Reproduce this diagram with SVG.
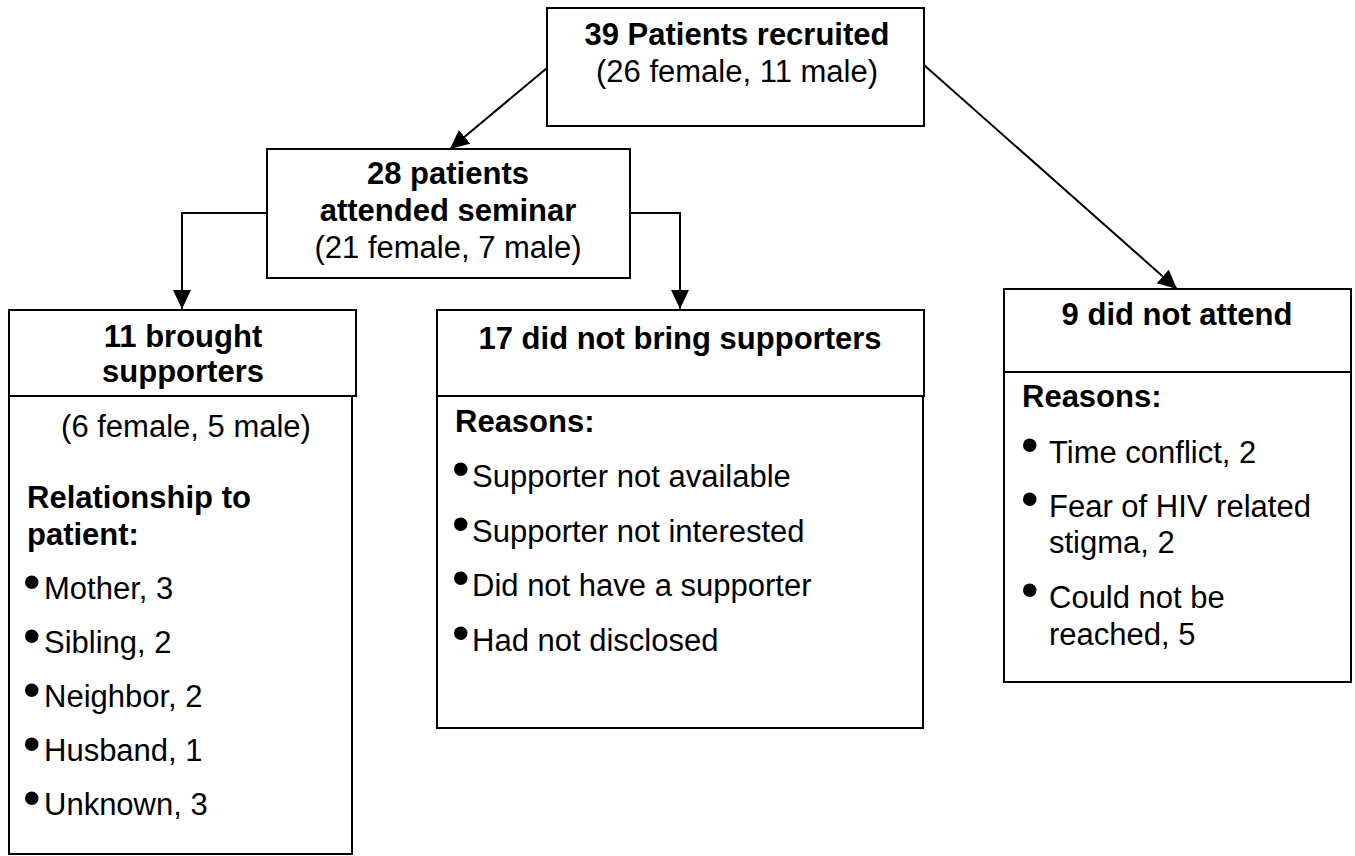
<svg xmlns="http://www.w3.org/2000/svg" width="1355" height="856" viewBox="0 0 1355 856">
<defs>
<marker id="arr" markerUnits="userSpaceOnUse" markerWidth="20" markerHeight="20" refX="19" refY="9" orient="auto">
<path d="M0,0 L19,9 L0,18 Z" fill="#000"/>
</marker>
<style>
.box{fill:#fff;stroke:#000;stroke-width:2}
.t{font-family:"Liberation Sans",Arial,sans-serif;font-size:31px;fill:#000}
.b{font-weight:bold}
.m{text-anchor:middle}
.bl{font-size:50px}
.c{fill:none;stroke:#000;stroke-width:2}
</style>
</defs>
<rect width="1355" height="856" fill="#fff"/>
<g id="connectors">
<path class="c" d="M547,68 L450,149" marker-end="url(#arr)"/>
<path class="c" d="M924,65 L1177,289" marker-end="url(#arr)"/>
<path class="c" d="M267,213 L182,213 L182,309" marker-end="url(#arr)"/>
<path class="c" d="M630,213 L680,213 L680,309" marker-end="url(#arr)"/>
</g>
<g id="recruited">
<rect class="box" x="547" y="8" width="377" height="118"/>
<text class="t b m" x="737" y="45">39 Patients recruited</text>
<text class="t m" x="737" y="82">(26 female, 11 male)</text>
</g>
<g id="attended">
<rect class="box" x="267" y="149" width="363" height="129"/>
<text class="t b m" x="448" y="184">28 patients</text>
<text class="t b m" x="448" y="221">attended seminar</text>
<text class="t m" x="448" y="258">(21 female, 7 male)</text>
</g>
<g id="brought">
<rect class="box" x="9" y="310" width="347" height="86"/>
<rect class="box" x="9" y="396" width="343" height="458"/>
<text class="t b m" x="183" y="347">11 brought</text>
<text class="t b m" x="183" y="382">supporters</text>
<text class="t m" x="186" y="437">(6 female, 5 male)</text>
<text class="t b" x="27" y="508">Relationship to</text>
<text class="t b" x="27" y="545">patient:</text>
<text class="t" y="599"><tspan class="bl" x="23">•</tspan><tspan x="44">Mother, 3</tspan></text>
<text class="t" y="653"><tspan class="bl" x="23">•</tspan><tspan x="44">Sibling, 2</tspan></text>
<text class="t" y="707"><tspan class="bl" x="23">•</tspan><tspan x="44">Neighbor, 2</tspan></text>
<text class="t" y="761"><tspan class="bl" x="23">•</tspan><tspan x="44">Husband, 1</tspan></text>
<text class="t" y="815"><tspan class="bl" x="23">•</tspan><tspan x="44">Unknown, 3</tspan></text>
</g>
<g id="notbring">
<rect class="box" x="437" y="310" width="487" height="86"/>
<rect class="box" x="437" y="396" width="486" height="332"/>
<text class="t b m" x="680" y="349">17 did not bring supporters</text>
<text class="t b" x="455" y="432">Reasons:</text>
<text class="t" y="487"><tspan class="bl" x="452" dy="-1">•</tspan><tspan x="472" dy="1">Supporter not available</tspan></text>
<text class="t" y="542"><tspan class="bl" x="452" dy="-1">•</tspan><tspan x="472" dy="1">Supporter not interested</tspan></text>
<text class="t" y="596"><tspan class="bl" x="452" dy="-1">•</tspan><tspan x="472" dy="1">Did not have a supporter</tspan></text>
<text class="t" y="651"><tspan class="bl" x="452" dy="-1">•</tspan><tspan x="472" dy="1">Had not disclosed</tspan></text>
</g>
<g id="notattend">
<rect class="box" x="1004" y="289" width="347" height="83"/>
<rect class="box" x="1004" y="372" width="347" height="310"/>
<text class="t b m" x="1177" y="325">9 did not attend</text>
<text class="t b" x="1022" y="407">Reasons:</text>
<text class="t" y="463"><tspan class="bl" x="1021" dy="-1">•</tspan><tspan x="1049" dy="1">Time conflict, 2</tspan></text>
<text class="t" y="517"><tspan class="bl" x="1021" dy="-1">•</tspan><tspan x="1049" dy="1">Fear of HIV related</tspan></text>
<text class="t" x="1049" y="553">stigma, 2</text>
<text class="t" y="608"><tspan class="bl" x="1021" dy="-1">•</tspan><tspan x="1049" dy="1">Could not be</tspan></text>
<text class="t" x="1049" y="645">reached, 5</text>
</g>
</svg>
